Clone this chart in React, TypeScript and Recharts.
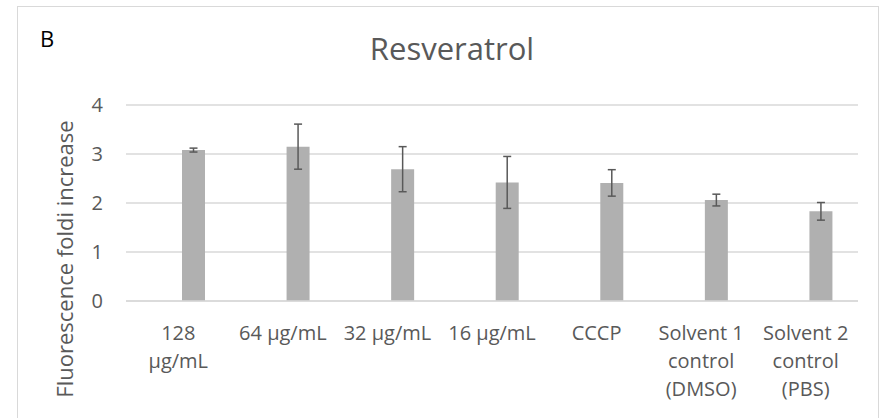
import { BarChart, Bar, XAxis, YAxis, CartesianGrid, ErrorBar } from "recharts";

const categories = [
  "128\nµg/mL",
  "64 µg/mL",
  "32 µg/mL",
  "16 µg/mL",
  "CCCP",
  "Solvent 1\ncontrol\n(DMSO)",
  "Solvent 2\ncontrol\n(PBS)",
];
const foldIncrease = [3.08, 3.15, 2.69, 2.42, 2.41, 2.06, 1.83];
const foldError = [0.04, 0.46, 0.46, 0.53, 0.27, 0.12, 0.18];
// second (empty) series from the original workbook, it only takes up a slot
const emptySeries: (number | null)[] = [null, null, null, null, null, null, null];
const yTicks = [0, 1, 2, 3, 4];

const data = categories.map((name, i) => ({
  name,
  blank: emptySeries[i],
  value: foldIncrease[i],
  err: foldError[i],
}));

const FONT = "'Open Sans', sans-serif";
const TEXT = "#595959";

const CategoryTick = (props: any) => {
  const { x, y, payload } = props;
  const lines = String(payload.value).split("\n");
  return (
    <text x={x} y={y} textAnchor="middle" fill={TEXT} fontSize={20} fontFamily={FONT}>
      {lines.map((line, i) => (
        <tspan key={i} x={x} dy={i === 0 ? 31 : 28}>
          {line}
        </tspan>
      ))}
    </text>
  );
};

export default function App() {
  return (
    <div
      style={{
        position: "absolute",
        left: 0,
        top: 0,
        width: 888,
        height: 418,
        background: "#fff",
        overflow: "hidden",
        fontFamily: FONT,
      }}
    >
      {/* chart area frame */}
      <div
        style={{
          position: "absolute",
          left: 17,
          top: 6,
          width: 860,
          height: 440,
          border: "1px solid #d9d9d9",
        }}
      />
      <BarChart
        width={888}
        height={418}
        data={data}
        margin={{ top: 105, right: 30, bottom: 87, left: 86 }}
        barSize={23}
        barGap={7}
        style={{ position: "absolute", left: 0, top: 0 }}
      >
        <CartesianGrid vertical={false} stroke="#d9d9d9" strokeWidth={1.5} />
        <XAxis
          dataKey="name"
          interval={0}
          height={30}
          axisLine={{ stroke: "#d9d9d9", strokeWidth: 1.5 }}
          tickLine={false}
          tick={<CategoryTick />}
        />
        <YAxis
          width={40}
          domain={[0, 4]}
          ticks={yTicks}
          axisLine={false}
          tickLine={false}
          tickMargin={17}
          tick={{ fill: TEXT, fontSize: 20, fontFamily: FONT }}
        />
        <Bar dataKey="blank" fill="#b0b0b0" isAnimationActive={false} />
        <Bar dataKey="value" fill="#b0b0b0" isAnimationActive={false}>
          <ErrorBar dataKey="err" width={4} stroke="#595959" strokeWidth={1.5} />
        </Bar>
      </BarChart>
      <svg
        width={888}
        height={418}
        style={{ position: "absolute", left: 0, top: 0, pointerEvents: "none" }}
      >
        <text x={40} y={47} fontSize={22} fontFamily={FONT} fill="#000">
          B
        </text>
        <text x={452} y={60} textAnchor="middle" fontSize={31} fontFamily={FONT} fill={TEXT}>
          Resveratrol
        </text>
        <text
          x={73}
          y={259}
          textAnchor="middle"
          fontSize={22}
          fontFamily={FONT}
          fill={TEXT}
          transform="rotate(-90 73 259)"
        >
          Fluorescence foldi increase
        </text>
      </svg>
    </div>
  );
}
